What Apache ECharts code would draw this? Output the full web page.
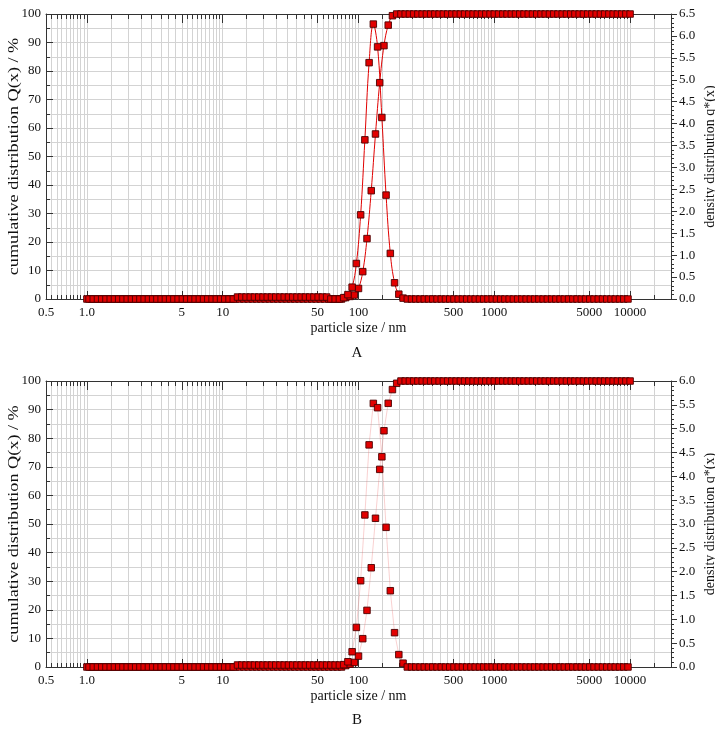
<!DOCTYPE html>
<html><head><meta charset="utf-8">
<script src="https://cdn.jsdelivr.net/npm/echarts@6/dist/echarts.min.js"></script>
<style>html,body{margin:0;padding:0;background:#fff}#c{width:715px;height:729px}</style>
</head><body><div id="c"></div>
<script>
// particle-size classes (nm): upper class bounds (cumulative) and class centres (density)
const sizesQ = [
1,1.075,1.155,1.241,1.334,1.433,1.540,1.655,1.778,1.911,2.054,2.207,2.371,2.548,2.738,2.943,3.162,3.398,3.652,3.924,4.217,4.532,4.870,5.233,5.623,6.043,6.494,6.978,7.499,8.058,8.660,9.306,
10,10.75,11.55,12.41,13.34,14.33,15.40,16.55,17.78,19.11,20.54,22.07,23.71,25.48,27.38,29.43,31.62,33.98,36.52,39.24,42.17,45.32,48.70,52.33,56.23,60.43,64.94,69.78,74.99,80.58,86.60,93.06,
100,107.5,115.5,124.1,133.4,143.3,154.0,165.5,177.8,191.1,205.4,220.7,237.1,254.8,273.8,294.3,316.2,339.8,365.2,392.4,421.7,453.2,487.0,523.3,562.3,604.3,649.4,697.8,749.9,805.8,866.0,930.6,
1000,1075,1155,1241,1334,1433,1540,1655,1778,1911,2054,2207,2371,2548,2738,2943,3162,3398,3652,3924,4217,4532,4870,5233,5623,6043,6494,6978,7499,8058,8660,9306,
10000];
const sizesD = [
1.037,1.114,1.197,1.286,1.382,1.486,1.596,1.715,1.843,1.981,2.129,2.288,2.458,2.642,2.839,3.051,3.278,3.523,3.786,4.068,4.372,4.698,5.048,5.425,5.829,6.264,6.732,7.234,7.774,8.354,8.977,9.647,
10.37,11.14,11.97,12.86,13.82,14.86,15.96,17.15,18.43,19.81,21.29,22.88,24.58,26.42,28.39,30.51,32.78,35.23,37.86,40.68,43.72,46.98,50.48,54.25,58.29,62.64,67.32,72.34,77.74,83.54,89.77,96.47,
103.7,111.4,119.7,128.6,138.2,148.6,159.6,171.5,184.3,198.1,212.9,228.8,245.8,264.2,283.9,305.1,327.8,352.3,378.6,406.8,437.2,469.8,504.8,542.5,582.9,626.4,673.2,723.4,777.4,835.4,897.7,964.7,
1037,1114,1197,1286,1382,1486,1596,1715,1843,1981,2129,2288,2458,2642,2839,3051,3278,3523,3786,4068,4372,4698,5048,5425,5829,6264,6732,7234,7774,8354,8977,9647];

// Chart A
const cumA = [
0,0,0,0,0,0,0,0,0,0,
0,0,0,0,0,0,0,0,0,0,
0,0,0,0,0,0,0,0,0,0,
0,0,0,0,0,0,0,0,0,0,
0,0,0,0,0,0,0,0,0,0,
0,0,0,0,0,0,0,0,0,0,
0,0.5,0.9,1.4,3.7,9.6,21.2,38,57.9,75.9,
88.9,96.1,99.4,100,100,100,100,100,100,100,
100,100,100,100,100,100,100,100,100,100,
100,100,100,100,100,100,100,100,100,100,
100,100,100,100,100,100,100,100,100,100,
100,100,100,100,100,100,100,100,100,100,
100,100,100,100,100,100,100,100,100];
const densA = [
0,0,0,0,0,0,0,0,0,0,
0,0,0,0,0,0,0,0,0,0,
0,0,0,0,0,0,0,0,0,0,
0,0,0,0,0,0.045,0.045,0.045,0.045,0.045,
0.045,0.045,0.045,0.045,0.045,0.045,0.045,0.045,0.045,0.045,
0.045,0.045,0.045,0.045,0.045,0.045,0.045,0,0,0,
0.03,0.10,0.27,0.81,1.92,3.63,5.39,6.27,5.75,4.14,
2.37,1.04,0.37,0.11,0.02,0,0,0,0,0,
0,0,0,0,0,0,0,0,0,0,
0,0,0,0,0,0,0,0,0,0,
0,0,0,0,0,0,0,0,0,0,
0,0,0,0,0,0,0,0,0,0,
0,0,0,0,0,0,0,0];
// Chart B
const cumB = [
0,0,0,0,0,0,0,0,0,0,
0,0,0,0,0,0,0,0,0,0,
0,0,0,0,0,0,0,0,0,0,
0,0,0,0,0,0,0,0,0,0,
0,0,0,0,0,0,0,0,0,0,
0,0,0,0,0,0,0,0,0,0,
0,0.5,1.0,1.6,3.8,9.9,19.8,34.7,52,69.1,
82.6,92.2,97,99.2,100,100,100,100,100,100,
100,100,100,100,100,100,100,100,100,100,
100,100,100,100,100,100,100,100,100,100,
100,100,100,100,100,100,100,100,100,100,
100,100,100,100,100,100,100,100,100,100,
100,100,100,100,100,100,100,100,100];
const densB = [
0,0,0,0,0,0,0,0,0,0,
0,0,0,0,0,0,0,0,0,0,
0,0,0,0,0,0,0,0,0,0,
0,0,0,0,0,0.042,0.042,0.042,0.042,0.042,
0.042,0.042,0.042,0.042,0.042,0.042,0.042,0.042,0.042,0.042,
0.042,0.042,0.042,0.042,0.042,0.042,0.042,0.042,0.042,0.042,
0.05,0.11,0.32,0.83,1.81,3.19,4.66,5.53,5.44,4.41,
2.93,1.60,0.72,0.26,0.08,0,0,0,0,0,
0,0,0,0,0,0,0,0,0,0,
0,0,0,0,0,0,0,0,0,0,
0,0,0,0,0,0,0,0,0,0,
0,0,0,0,0,0,0,0,0,0,
0,0,0,0,0,0,0,0];

const xLabelValues = [0.5,1,5,10,50,100,500,1000,5000,10000];
const xLabelTexts = ['0.5','1.0','5','10','50','100','500','1000','5000','10000'];
const xTickMultipliers = [1,1.5,2,2.5,3,3.5,4,4.5,5,5.5,6,6.5,7,7.5,8,8.5,9,9.5];
const xTickDecades = [1,10,100,1000];
const xTickLow = [0.5,0.55,0.6,0.65,0.7,0.75,0.8,0.85,0.9,0.95];
const xTickHigh = [10000,15000,20000];
const xTickValues = xTickLow.slice();
xTickDecades.forEach(d => xTickMultipliers.forEach(m => xTickValues.push(+(m*d).toPrecision(6))));
xTickHigh.forEach(v => xTickValues.push(v));

const FONT = '"Liberation Serif","Times New Roman",serif';
const AX = '#333';
const GRID = '#d3d3d3';
const leftTitle = 'cumulative distribution Q(x) / %';
const rightTitle = 'density distribution q*(x)';

function fmtX(v){
  let best = 0, bd = 1e9;
  xLabelValues.forEach((t,i)=>{ const d = Math.abs(Math.log10(v)-Math.log10(t)); if (d<bd){bd=d;best=i;} });
  return xLabelTexts[best];
}

function xAxes(g){
  const base = {type:'log', logBase:10, min:0.5, max:20000, gridIndex:g,
    axisLine:{show:true,onZero:false,lineStyle:{color:AX,width:1}},
    splitLine:{show:false}, axisLabel:{show:false}, axisTick:{show:false}};
  return [
    Object.assign({}, base, {position:'bottom',
      name:'particle size / nm', nameLocation:'middle', nameGap:22, nameMoveOverlap:false,
      nameTextStyle:{fontFamily:FONT,fontSize:14,color:'#111'},
      axisTick:{show:true,inside:true,length:4,customValues:xTickValues,lineStyle:{color:AX}},
      axisLabel:{show:true,customValues:xLabelValues,formatter:fmtX,margin:7,fontFamily:FONT,fontSize:13,color:'#111'},
      splitLine:{show:true,lineStyle:{color:GRID,width:1}}}),
    Object.assign({}, base, {position:'bottom', axisLine:{show:false,onZero:false},
      axisTick:{show:true,inside:true,length:8,customValues:xLabelValues,lineStyle:{color:AX}}}),
    Object.assign({}, base, {position:'top',
      axisTick:{show:true,inside:true,length:5,customValues:xTickValues,lineStyle:{color:AX}}}),
    Object.assign({}, base, {position:'top', axisLine:{show:false,onZero:false},
      axisTick:{show:true,inside:true,length:9,customValues:xLabelValues,lineStyle:{color:AX}}})
  ];
}
function yAxes(g, rmax){
  return [
    {type:'value', gridIndex:g, position:'left', min:0, max:100, interval:10,
     axisLine:{show:true,onZero:false,lineStyle:{color:AX}},
     axisTick:{show:true,inside:true,length:7,lineStyle:{color:AX}},
     minorTick:{show:true,splitNumber:2,length:4,lineStyle:{color:AX}},
     splitLine:{show:true,lineStyle:{color:GRID}},
     minorSplitLine:{show:true,lineStyle:{color:GRID}},
     axisLabel:{margin:5,fontFamily:FONT,fontSize:13,color:'#111'}},
    {type:'value', gridIndex:g, position:'right', min:0, max:rmax, interval:0.5,
     axisLine:{show:true,onZero:false,lineStyle:{color:AX}},
     axisTick:{show:true,inside:false,length:6,lineStyle:{color:AX}},
     minorTick:{show:true,splitNumber:5,length:3,lineStyle:{color:AX}},
     splitLine:{show:false},
     axisLabel:{margin:8,fontFamily:FONT,fontSize:13,color:'#111',formatter:v=>v.toFixed(1)},
     name:rightTitle, nameLocation:'middle', nameGap:32, nameRotate:90,
     nameMoveOverlap:false,
     nameTextStyle:{fontFamily:FONT,fontSize:14,color:'#111'}}
  ];
}
const markStyle = {color:'#e20000', borderColor:'#4a0000', borderWidth:0.9};
function mkSeries(xIdx, yL, yR, cum, dens, line, smooth){
  const common = {type:'line', xAxisIndex:xIdx, symbol:'rect', symbolSize:6.5,
    itemStyle:markStyle, lineStyle:line, smooth:smooth, animation:false, z:3};
  return [
    Object.assign({}, common, {yAxisIndex:yL, data:sizesQ.map((x,i)=>[x,cum[i]])}),
    Object.assign({}, common, {yAxisIndex:yR, data:sizesD.map((x,i)=>[x,dens[i]])})
  ];
}
function vTitle(y){
  return {type:'text', x:14, y:y, rotation:Math.PI/2, scaleX:1.3,
    style:{text:leftTitle, font:'14px "Liberation Serif"', fill:'#111', textAlign:'center', textVerticalAlign:'middle'}};
}

const chart = echarts.init(document.getElementById('c'), null, {renderer:'canvas'});
chart.setOption({
  animation:false,
  backgroundColor:'#fff',
  grid:[{left:46,right:44,top:14,height:285,outerBoundsMode:'none',containLabel:false},
        {left:46,right:44,top:381,height:286,outerBoundsMode:'none',containLabel:false}],
  xAxis:[].concat(xAxes(0), xAxes(1)),
  yAxis:[].concat(yAxes(0,6.5), yAxes(1,6.0)),
  series:[].concat(
    mkSeries(0,0,1,cumA,densA,{color:'#e00000',width:1},0.4),
    mkSeries(4,2,3,cumB,densB,{color:'rgba(235,110,110,0.4)',width:0.8},false)
  ),
  graphic:[
    vTitle(156.5), vTitle(524),
    {type:'text', x:357, y:353, style:{text:'A', font:'15px "Liberation Serif"', fill:'#111', textAlign:'center', textVerticalAlign:'middle'}},
    {type:'text', x:357, y:720, style:{text:'B', font:'15px "Liberation Serif"', fill:'#111', textAlign:'center', textVerticalAlign:'middle'}}
  ]
});
</script></body></html>
